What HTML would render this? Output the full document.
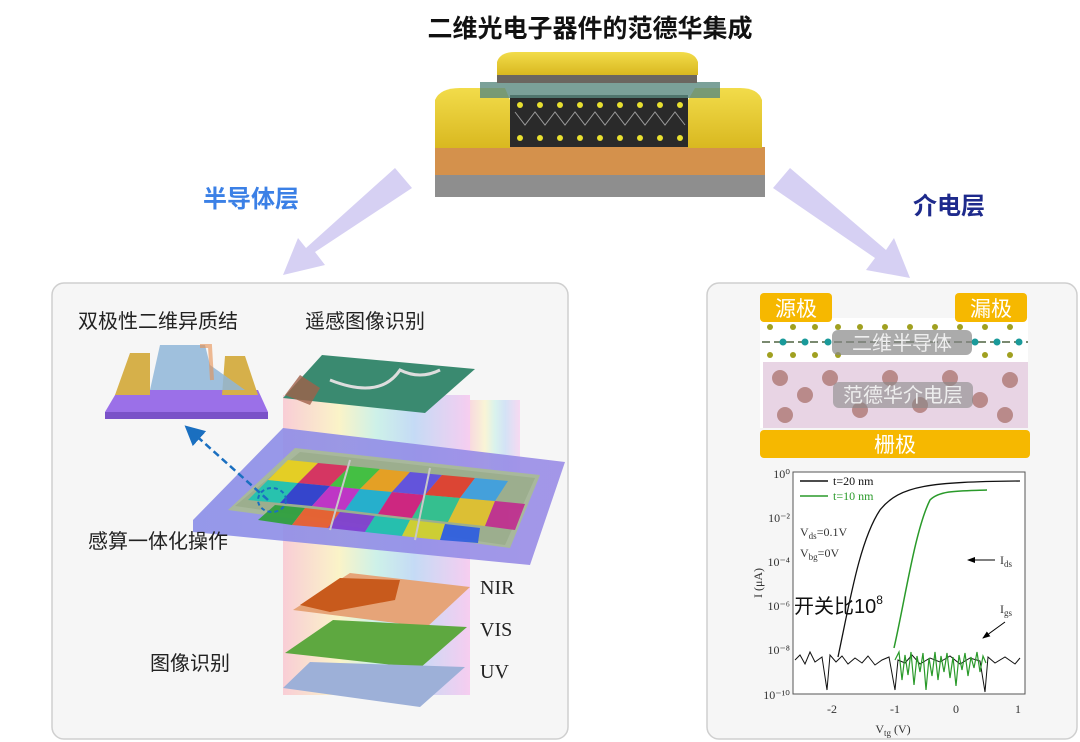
<!DOCTYPE html>
<html><head><meta charset="utf-8"><style>
body{margin:0;background:#fff;}
svg{display:block;font-family:"Liberation Sans","Noto Sans CJK SC",sans-serif;}
.s{font-family:"Liberation Serif","Noto Serif CJK SC",serif;}
</style></head><body>
<svg width="1080" height="742" viewBox="0 0 1080 742" xmlns="http://www.w3.org/2000/svg">
<defs>
<linearGradient id="rb" x1="0" x2="1"><stop offset="0" stop-color="#f9c6d0"/><stop offset=".3" stop-color="#fbf3c0"/><stop offset=".5" stop-color="#c6f0e6"/><stop offset=".7" stop-color="#bcd6f5"/><stop offset="1" stop-color="#f6c6ef"/></linearGradient>
<linearGradient id="gold" x1="0" y1="0" x2="0" y2="1"><stop offset="0" stop-color="#f2dc4a"/><stop offset="1" stop-color="#d9b820"/></linearGradient>
<linearGradient id="chip" x1="0" x2="1"><stop offset="0" stop-color="#8a8ee8"/><stop offset="1" stop-color="#9a8ce6"/></linearGradient>
<marker id="ah" markerWidth="8" markerHeight="8" refX="4" refY="4" orient="auto"><path d="M0,0L8,4L0,8z" fill="#1a6fc0"/></marker>
<marker id="ak" markerWidth="8" markerHeight="6" refX="7" refY="3" orient="auto"><path d="M0,0L8,3L0,6z" fill="#000"/></marker>
</defs>
<text x="590" y="37" text-anchor="middle" font-size="25" font-weight="bold" fill="#111">二维光电子器件的范德华集成</text>
<!-- big arrows -->
<path d="M395,168 L412,188 L315,252 L325,265 L283,275 L298,238 L306,248 Z" fill="#d6d0f3"/>
<path d="M790,168 L773,188 L875,258 L866,270 L910,278 L894,238 L886,250 Z" fill="#d6d0f3"/>
<text x="203" y="207" font-size="24" font-weight="bold" fill="#3b80e6">半导体层</text>
<text x="913" y="214" font-size="24" font-weight="bold" fill="#1e2a8c">介电层</text>
<!-- device -->
<rect x="435" y="175" width="330" height="22" fill="#8e8e8e"/>
<rect x="435" y="147" width="330" height="28" fill="#d4914c"/>
<path d="M435,100 Q440,88 460,88 L505,88 L510,100 L510,148 L435,148Z" fill="url(#gold)"/>
<path d="M762,100 Q758,88 740,88 L695,88 L688,100 L688,148 L762,148Z" fill="url(#gold)"/>
<rect x="510" y="95" width="178" height="52" fill="#2a2a2a"/>
<rect x="480" y="82" width="240" height="16" fill="#5a8a80" opacity=".8"/>
<g fill="#e8e030">
<circle cx="520" cy="105" r="3"/><circle cx="540" cy="105" r="3"/><circle cx="560" cy="105" r="3"/><circle cx="580" cy="105" r="3"/><circle cx="600" cy="105" r="3"/><circle cx="620" cy="105" r="3"/><circle cx="640" cy="105" r="3"/><circle cx="660" cy="105" r="3"/><circle cx="680" cy="105" r="3"/>
<circle cx="520" cy="138" r="3"/><circle cx="540" cy="138" r="3"/><circle cx="560" cy="138" r="3"/><circle cx="580" cy="138" r="3"/><circle cx="600" cy="138" r="3"/><circle cx="620" cy="138" r="3"/><circle cx="640" cy="138" r="3"/><circle cx="660" cy="138" r="3"/><circle cx="680" cy="138" r="3"/></g>
<path d="M515,112 L525,125 L535,112 L545,125 L555,112 L565,125 L575,112 L585,125 L595,112 L605,125 L615,112 L625,125 L635,112 L645,125 L655,112 L665,125 L675,112 L685,125" stroke="#999" fill="none"/>
<rect x="497" y="74" width="200" height="9" fill="#6b6660"/>
<path d="M497,62 Q500,52 515,52 L680,52 Q695,52 698,62 L698,75 L497,75Z" fill="url(#gold)"/>
<!-- left panel -->
<rect x="52" y="283" width="516" height="456" rx="12" fill="#f6f6f6" stroke="#cfcfcf" stroke-width="1.5"/>
<text x="78" y="328" font-size="20" fill="#222">双极性二维异质结</text>
<text x="305" y="328" font-size="20" fill="#222">遥感图像识别</text>
<!-- hetero device -->
<path d="M105,412 L118,390 L258,390 L268,412 Z" fill="#9b70e8"/>
<rect x="105" y="412" width="163" height="7" fill="#7a52c8"/>
<path d="M115,395 L130,353 L150,353 L150,395Z" fill="#d6b04a"/>
<path d="M222,395 L225,356 L245,356 L258,395Z" fill="#d6b04a"/>
<path d="M150,390 L160,345 L205,345 L210,365 L245,390Z" fill="#8fb6d8" opacity=".85"/>
<path d="M200,346 L210,346 L212,380" stroke="#e89050" stroke-width="4" fill="none" opacity=".6"/>
<!-- rainbow column -->
<rect x="283" y="395" width="187" height="300" fill="url(#rb)" opacity=".85"/>
<rect x="470" y="400" width="50" height="72" fill="url(#rb)" opacity=".6"/>
<!-- top map -->
<path d="M283,398 L322,355 L475,369 L425,413Z" fill="#3a8a70"/>
<path d="M330,380 Q380,400 400,370 Q420,380 440,370" stroke="#ddd" stroke-width="3" fill="none"/>
<path d="M285,395 L300,375 L320,388 L310,405Z" fill="#a0604a" opacity=".8"/>
<!-- chip -->
<path d="M193,520 L283,428 L565,462 L530,565 L193,532Z" fill="url(#chip)" opacity=".9"/>
<path d="M228,510 L295,448 L540,475 L510,548 Z" fill="#a8b89c"/>
<g>
<path d="M235,506 L300,452 L535,478 L505,545Z" fill="#9cae8e"/>
</g>
<g opacity=".95">
<path d="M248,500 L268,480 L298,483 L280,503Z" fill="#22c4b0"/>
<path d="M268,480 L288,460 L318,463 L298,483Z" fill="#e8d020"/>
<path d="M298,483 L318,463 L350,466 L330,486Z" fill="#d93060"/>
<path d="M280,503 L298,483 L330,486 L312,506Z" fill="#3040d0"/>
<path d="M312,506 L330,486 L360,489 L345,510Z" fill="#c030c8"/>
<path d="M330,486 L350,466 L380,469 L360,489Z" fill="#40c040"/>
<path d="M360,489 L380,469 L410,472 L392,492Z" fill="#e8a020"/>
<path d="M345,510 L360,489 L392,492 L378,514Z" fill="#20b0d0"/>
<path d="M378,514 L392,492 L425,495 L412,518Z" fill="#d02080"/>
<path d="M392,492 L410,472 L442,475 L425,495Z" fill="#6050e0"/>
<path d="M425,495 L442,475 L475,478 L460,498Z" fill="#e04030"/>
<path d="M412,518 L425,495 L460,498 L448,522Z" fill="#30c090"/>
<path d="M448,522 L460,498 L495,501 L485,526Z" fill="#e0c030"/>
<path d="M460,498 L475,478 L508,481 L495,501Z" fill="#40a0e0"/>
<path d="M485,526 L495,501 L525,504 L515,530Z" fill="#c03090"/>
<path d="M258,520 L275,505 L305,508 L292,525Z" fill="#30a040"/>
<path d="M292,525 L305,508 L340,512 L328,528Z" fill="#e86030"/>
<path d="M328,528 L340,512 L375,516 L365,532Z" fill="#8040d0"/>
<path d="M365,532 L375,516 L410,520 L402,536Z" fill="#20c0b0"/>
<path d="M402,536 L410,520 L445,524 L440,540Z" fill="#d0d030"/>
<path d="M440,540 L445,524 L480,528 L478,543Z" fill="#3060e0"/>
</g>
<path d="M350,460 L330,530 M430,468 L415,540" stroke="#c8c8c8" stroke-width="2"/>
<ellipse cx="272" cy="500" rx="14" ry="12" fill="none" stroke="#1a6fc0" stroke-width="2" stroke-dasharray="4,3"/>
<line x1="268" y1="500" x2="192" y2="432" stroke="#1a6fc0" stroke-width="2.5" stroke-dasharray="7,4" marker-end="url(#ah)"/>
<text x="88" y="548" font-size="20" fill="#222">感算一体化操作</text>
<!-- layers -->
<path d="M293,610 L350,573 L470,587 L427,627Z" fill="#e6a478"/>
<path d="M300,605 L340,578 L400,580 L395,600 L330,612Z" fill="#c85a1c"/>
<path d="M285,653 L333,620 L467,627 L420,668Z" fill="#5ea840"/>
<path d="M283,688 L310,662 L465,667 L420,707Z" fill="#9db0d8"/>
<text x="480" y="594" font-size="20" class="s" fill="#222">NIR</text>
<text x="480" y="636" font-size="20" class="s" fill="#222">VIS</text>
<text x="480" y="678" font-size="20" class="s" fill="#222">UV</text>
<text x="150" y="670" font-size="20" fill="#222">图像识别</text>
<!-- right panel -->
<rect x="707" y="283" width="370" height="456" rx="12" fill="#f6f6f6" stroke="#cfcfcf" stroke-width="1.5"/>
<rect x="760" y="318" width="268" height="110" fill="#fff"/>
<rect x="763" y="362" width="265" height="66" fill="#e8d4e4"/>
<g fill="#9a5a50" opacity=".6">
<circle cx="780" cy="378" r="8"/><circle cx="805" cy="395" r="8"/><circle cx="830" cy="378" r="8"/><circle cx="860" cy="410" r="8"/><circle cx="890" cy="378" r="8"/><circle cx="920" cy="405" r="8"/><circle cx="950" cy="378" r="8"/><circle cx="980" cy="400" r="8"/><circle cx="1010" cy="380" r="8"/><circle cx="785" cy="415" r="8"/><circle cx="1005" cy="415" r="8"/></g>
<line x1="762" y1="342" x2="1028" y2="342" stroke="#7a8a70" stroke-width="2" stroke-dasharray="8,4"/>
<g fill="#a0a020"><circle cx="770" cy="327" r="3"/><circle cx="793" cy="327" r="3"/><circle cx="815" cy="327" r="3"/><circle cx="838" cy="327" r="3"/><circle cx="860" cy="327" r="3"/><circle cx="885" cy="327" r="3"/><circle cx="910" cy="327" r="3"/><circle cx="935" cy="327" r="3"/><circle cx="960" cy="327" r="3"/><circle cx="985" cy="327" r="3"/><circle cx="1010" cy="327" r="3"/>
<circle cx="770" cy="355" r="3"/><circle cx="793" cy="355" r="3"/><circle cx="815" cy="355" r="3"/><circle cx="838" cy="355" r="3"/><circle cx="985" cy="355" r="3"/><circle cx="1010" cy="355" r="3"/></g>
<g fill="#1a9a9a"><circle cx="783" cy="342" r="3.5"/><circle cx="805" cy="342" r="3.5"/><circle cx="828" cy="342" r="3.5"/><circle cx="975" cy="342" r="3.5"/><circle cx="997" cy="342" r="3.5"/><circle cx="1019" cy="342" r="3.5"/></g>
<rect x="832" y="330" width="140" height="25" rx="6" fill="#888" opacity=".7"/>
<text x="902" y="350" text-anchor="middle" font-size="20" fill="#eee">二维半导体</text>
<rect x="833" y="382" width="140" height="26" rx="6" fill="#888" opacity=".6"/>
<text x="903" y="402" text-anchor="middle" font-size="20" fill="#eee">范德华介电层</text>
<rect x="760" y="293" width="72" height="29" rx="4" fill="#f6b800"/>
<text x="796" y="316" text-anchor="middle" font-size="21" fill="#fff">源极</text>
<rect x="955" y="293" width="72" height="29" rx="4" fill="#f6b800"/>
<text x="991" y="316" text-anchor="middle" font-size="21" fill="#fff">漏极</text>
<rect x="760" y="430" width="270" height="28" rx="4" fill="#f6b800"/>
<text x="895" y="452" text-anchor="middle" font-size="21" fill="#fff">栅极</text>
<!-- plot -->
<rect x="793" y="472" width="232" height="222" fill="#fff" stroke="#555"/>
<g class="s" font-size="12" fill="#333" text-anchor="end">
<text x="790" y="478">10⁰</text><text x="790" y="522">10⁻²</text><text x="790" y="566">10⁻⁴</text><text x="790" y="610">10⁻⁶</text><text x="790" y="654">10⁻⁸</text><text x="790" y="699">10⁻¹⁰</text></g>
<g class="s" font-size="12" fill="#333" text-anchor="middle">
<text x="832" y="713">-2</text><text x="895" y="713">-1</text><text x="956" y="713">0</text><text x="1018" y="713">1</text>
<text x="893" y="733">V<tspan font-size="9" dy="3">tg</tspan><tspan dy="-3"> (V)</tspan></text></g>
<text x="762" y="583" class="s" font-size="12" fill="#333" transform="rotate(-90 762 583)" text-anchor="middle">I (μA)</text>
<line x1="800" y1="481" x2="828" y2="481" stroke="#111" stroke-width="1.5"/>
<text x="833" y="485" class="s" font-size="12" fill="#111">t=20 nm</text>
<line x1="800" y1="496" x2="828" y2="496" stroke="#2a9a2a" stroke-width="1.5"/>
<text x="833" y="500" class="s" font-size="12" fill="#2a9a2a">t=10 nm</text>
<text x="800" y="536" class="s" font-size="12" fill="#333">V<tspan font-size="9" dy="3">ds</tspan><tspan dy="-3">=0.1V</tspan></text>
<text x="800" y="557" class="s" font-size="12" fill="#333">V<tspan font-size="9" dy="3">bg</tspan><tspan dy="-3">=0V</tspan></text>
<line x1="995" y1="560" x2="968" y2="560" stroke="#000" marker-end="url(#ak)"/>
<text x="1000" y="564" class="s" font-size="12" fill="#333">I<tspan font-size="9" dy="3">ds</tspan></text>
<text x="1000" y="613" class="s" font-size="12" fill="#333">I<tspan font-size="9" dy="3">gs</tspan></text>
<line x1="1005" y1="622" x2="983" y2="638" stroke="#000" marker-end="url(#ak)"/>
<text x="794" y="613" font-size="20" fill="#111">开关比10<tspan font-size="12" dy="-9">8</tspan></text>
<path d="M838,657 C850,600 860,540 880,510 C900,485 930,482 1020,481" stroke="#111" stroke-width="1.3" fill="none"/>
<path d="M894,648 C905,600 915,530 930,500 C940,490 960,491 987,490" stroke="#2a9a2a" stroke-width="1.5" fill="none"/>
<path d="M795,660 L800,655 L805,664 L810,652 L815,662 L822,657 L827,690 L830,655 L836,662 L842,656 L848,664 L855,658 L862,663 L868,656 L875,665 L882,660 L889,657 L895,690 L898,660 L905,663 L912,655 L920,664 L930,658 L940,662 L950,656 L960,664 L970,658 L980,661 L985,692 L988,657 L995,663 L1005,657 L1015,664 L1020,658" stroke="#111" stroke-width="1" fill="none"/>
<path d="M895,660 L899,652 L902,680 L905,655 L908,675 L911,652 L914,685 L917,656 L920,672 L923,653 L926,690 L929,658 L932,676 L935,652 L938,680 L941,656 L944,672 L947,653 L950,678 L953,657 L956,686 L959,655 L962,670 L965,653 L968,676 L971,657 L974,668 L977,652 L980,672 L983,656 L986,663" stroke="#2a9a2a" stroke-width="1.2" fill="none"/>
</svg>
</body></html>
